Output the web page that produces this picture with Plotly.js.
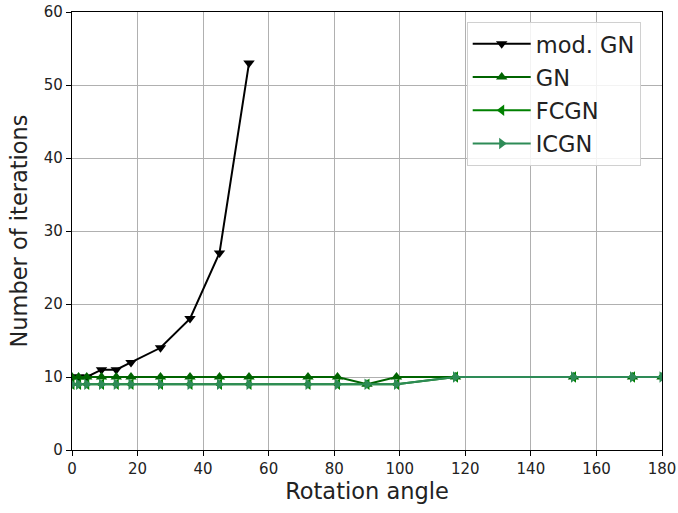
<!DOCTYPE html>
<html>
<head>
<meta charset="utf-8">
<script src="https://cdn.plot.ly/plotly-3.0.1.min.js"></script>
<style>html,body{margin:0;padding:0;background:#fff;}#chart{width:678px;height:513px;}</style>
</head>
<body>
<div id="chart"></div>
<script>
const modGN_x = [0, 2, 4.5, 9, 13.5, 18, 27, 36, 45, 54];
const modGN_y = [10, 10, 10, 11, 11, 12, 14, 18, 27, 53];
const angles = [0, 2, 4.5, 9, 13.5, 18, 27, 36, 45, 54, 72, 81, 90, 99, 117, 153, 171, 180];
const GN_y   = [10, 10, 10, 10, 10, 10, 10, 10, 10, 10, 10, 10, 9, 10, 10, 10, 10, 10];
const FCGN_y = [9, 9, 9, 9, 9, 9, 9, 9, 9, 9, 9, 9, 9, 9, 10, 10, 10, 10];
const ICGN_y = [9, 9, 9, 9, 9, 9, 9, 9, 9, 9, 9, 9, 9, 9, 10, 10, 10, 10];
const xTicks = [0, 20, 40, 60, 80, 100, 120, 140, 160, 180];
const yTicks = [0, 10, 20, 30, 40, 50, 60];

function tr(name, x, y, color, symbol, grp) {
  return {
    x: x, y: y, name: name, type: 'scatter', mode: 'lines+markers',
    line: {color: color, width: 2},
    marker: {color: color, symbol: symbol, size: 10},
    legendgroup: grp, cliponaxis: true
  };
}

const data = [
  tr('mod. GN', modGN_x, modGN_y, '#000000', 'triangle-down', 'a'),
  tr('GN', angles, GN_y, '#006400', 'triangle-up', 'b'),
  tr('FCGN', angles, FCGN_y, '#008000', 'triangle-left', 'c'),
  tr('ICGN', angles, ICGN_y, '#2E8B57', 'triangle-right', 'd')
];

const axisCommon = {
  showline: true, linecolor: '#000', linewidth: 1.2, mirror: true,
  ticks: 'outside', ticklen: 5, tickwidth: 1, tickcolor: '#000',
  showgrid: true, gridcolor: '#b0b0b0', gridwidth: 1, zeroline: false,
  tickfont: {family: 'DejaVu Sans', size: 15, color: '#222'}
};

const layout = {
  width: 678, height: 513,
  margin: {l: 72, r: 16, t: 12, b: 63},
  paper_bgcolor: '#fff', plot_bgcolor: '#fff',
  font: {family: 'DejaVu Sans', color: '#222'},
  xaxis: Object.assign({}, axisCommon, {
    range: [0, 180], tickvals: xTicks, ticktext: xTicks.map(String),
    title: {text: 'Rotation angle', font: {family: 'DejaVu Sans', size: 22.5, color: '#222'}, standoff: 6}
  }),
  yaxis: Object.assign({}, axisCommon, {
    range: [0, 60], tickvals: yTicks, ticktext: yTicks.map(String),
    title: {text: 'Number of iterations', font: {family: 'DejaVu Sans', size: 22.5, color: '#222'}, standoff: 9}
  }),
  showlegend: true,
  legend: {
    x: 0.669, y: 0.978, xanchor: 'left', yanchor: 'top',
    bgcolor: 'rgba(255,255,255,0.85)', bordercolor: '#d0d0d0', borderwidth: 1,
    font: {family: 'DejaVu Sans', size: 22.5, color: '#222'},
    traceorder: 'grouped', tracegroupgap: 1, itemwidth: 58
  }
};

Plotly.newPlot('chart', data, layout, {displayModeBar: false, staticPlot: true});
</script>
</body>
</html>
